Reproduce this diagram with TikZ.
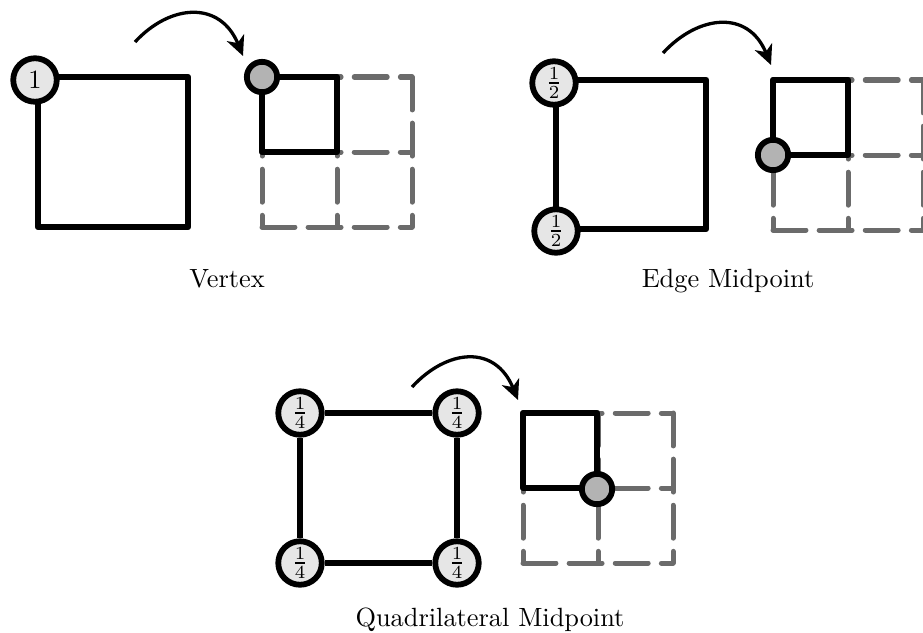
\documentclass[tikz,border=0pt]{standalone}
\usetikzlibrary{arrows.meta}
\definecolor{dashgray}{HTML}{6B6B6B}
\definecolor{lightfill}{HTML}{E6E6E6}
\definecolor{dotfill}{HTML}{B3B3B3}
\begin{document}
\begin{tikzpicture}[x=0.0133333cm,y=-0.0133333cm,
  sq/.style={line width=2.5pt,line join=round},
  gridline/.style={dashgray,line width=1.9pt,line cap=round,dash pattern=on 12.5pt off 5pt},
  wnode/.style={circle,draw,line width=2.2pt,fill=lightfill,minimum size=16.5pt,inner sep=0pt},
  gdot/.style={circle,draw,line width=2.2pt,fill=dotfill,minimum size=11.5pt,inner sep=0pt},
  maparrow/.style={line width=1.25pt,-{Stealth[length=7.5pt,width=7pt,inset=2.2pt]}},
  caption/.style={anchor=base,inner sep=0pt}]
\useasboundingbox (0,0) rectangle (923,632);

% ---------- Panel 1: Vertex ----------
\coordinate (v1a) at (38,77);
\coordinate (v1b) at (188,77);
\coordinate (v1c) at (188,227);
\coordinate (v1d) at (38,227);
\draw[sq] (v1a) -- (v1b) -- (v1c) -- (v1d) -- cycle;
\node[wnode] (vn1) at (35,80) {1};
\begin{scope}[shift={(262,77)}]
  \foreach \i in {0,75,150} {
    \draw[gridline] (\i,0) -- (\i,150);
    \draw[gridline] (0,\i) -- (150,\i);
  }
  \draw[sq] (0,0) rectangle (75,75);
  \node[gdot] (vdot) at (0,0) {};
\end{scope}
\coordinate (varS) at (135,42);
\coordinate (varE) at (243,56);
\draw[maparrow] (varS) .. controls +(35,-38) and +(-23,-56) .. (varE);
\node[caption] (vcap) at (227,287) {Vertex};

% ---------- Panel 2: Edge Midpoint ----------
\coordinate (e1a) at (556,80);
\coordinate (e1b) at (706,80);
\coordinate (e1c) at (706,229);
\coordinate (e1d) at (556,229);
\draw[sq] (e1a) -- (e1b) -- (e1c) -- (e1d) -- cycle;
\node[wnode] (en1) at (554,83) {$\frac{1}{2}$};
\node[wnode] (en2) at (556,231) {$\frac{1}{2}$};
\begin{scope}[shift={(773,80)}]
  \foreach \i in {0,75,150} {
    \draw[gridline] (\i,0) -- (\i,150);
    \draw[gridline] (0,\i) -- (150,\i);
  }
  \draw[sq] (0,0) rectangle (75,75);
  \node[gdot] (edot) at (0,75) {};
\end{scope}
\coordinate (earS) at (663,53);
\coordinate (earE) at (771,65);
\draw[maparrow] (earS) .. controls +(35,-38) and +(-23,-56) .. (earE);
\node[caption] (ecap) at (728,287) {Edge Midpoint};

% ---------- Panel 3: Quadrilateral Midpoint ----------
\node[wnode] (q1) at (300,413) {$\frac{1}{4}$};
\node[wnode] (q2) at (457,413) {$\frac{1}{4}$};
\node[wnode] (q3) at (457,563) {$\frac{1}{4}$};
\node[wnode] (q4) at (300,563) {$\frac{1}{4}$};
\draw[sq] (q1) -- (q2);
\draw[sq] (q2) -- (q3);
\draw[sq] (q3) -- (q4);
\draw[sq] (q4) -- (q1);
\begin{scope}[shift={(523,413)}]
  \foreach \i in {0,75,150} {
    \draw[gridline] (\i,0) -- (\i,150);
    \draw[gridline] (0,\i) -- (150,\i);
  }
  \draw[sq] (0,0) rectangle (74,75);
  \node[gdot] (qdot) at (74,76) {};
\end{scope}
\coordinate (qarS) at (412,387);
\coordinate (qarE) at (518,400);
\draw[maparrow] (qarS) .. controls +(35,-38) and +(-23,-56) .. (qarE);
\node[caption] (qcap) at (490,626) {Quadrilateral Midpoint};
\end{tikzpicture}
\end{document}
